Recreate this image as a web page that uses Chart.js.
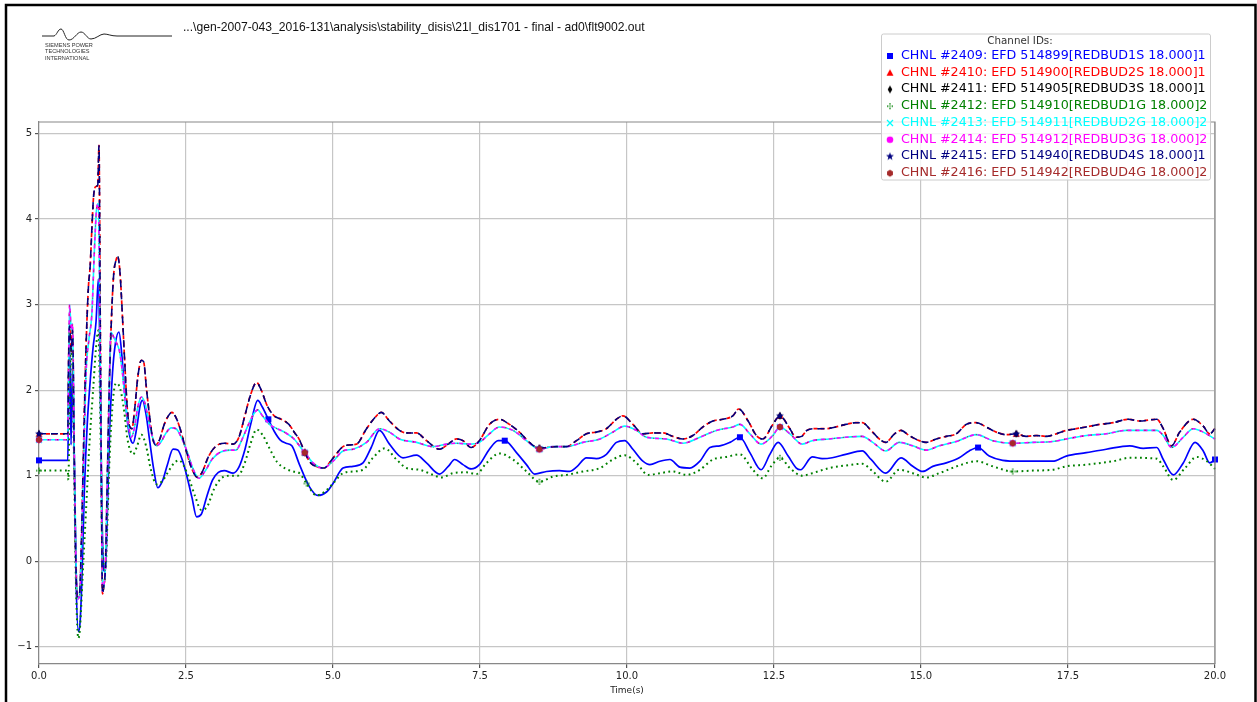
<!DOCTYPE html>
<html>
<head>
<meta charset="utf-8">
<script src="https://cdn.jsdelivr.net/npm/chart.js@4.4.0/dist/chart.umd.min.js"></script>
<style>
  html, body { margin: 0; padding: 0; background: #fff; }
  #wrap { position: relative; width: 1257px; height: 702px; }
</style>
</head>
<body>
<div id="wrap"><canvas id="efdChart" width="1257" height="702"></canvas></div>
<script>
// EFD traces: [time (s), value]
const timeTicks = [0, 2.5, 5, 7.5, 10, 12.5, 15, 17.5, 20];
const valueTicks = [-1, 0, 1, 2, 3, 4, 5];

const channelNames = [
  'CHNL #2409: EFD 514899[REDBUD1S 18.000]1',
  'CHNL #2410: EFD 514900[REDBUD2S 18.000]1',
  'CHNL #2411: EFD 514905[REDBUD3S 18.000]1',
  'CHNL #2412: EFD 514910[REDBUD1G 18.000]2',
  'CHNL #2413: EFD 514911[REDBUD2G 18.000]2',
  'CHNL #2414: EFD 514912[REDBUD3G 18.000]2',
  'CHNL #2415: EFD 514940[REDBUD4S 18.000]1',
  'CHNL #2416: EFD 514942[REDBUD4G 18.000]2'
];

// REDBUD1S
const efdBlue = [[0,1.18],[0.49,1.18],[0.5,1.7],[0.52,2.6],[0.545,1.36],[0.57,2.3],[0.6,1.2],[0.63,-0.2],[0.67,-0.82],[0.7,-0.7],[0.73,-0.2],[0.77,0.8],[0.82,1.6],[0.87,2.1],[0.92,2.5],[0.97,2.8],[1.01,3.3],[1.04,2.2],[1.07,0.6],[1.1,-0.1],[1.13,-0.12],[1.16,0.5],[1.2,1.5],[1.25,2.2],[1.3,2.55],[1.36,2.68],[1.41,2.4],[1.46,1.95],[1.51,1.6],[1.56,1.42],[1.6,1.38],[1.66,1.55],[1.72,1.82],[1.76,1.88],[1.82,1.72],[1.88,1.42],[1.95,1.08],[2.02,0.86],[2.1,0.94],[2.18,1.12],[2.28,1.31],[2.36,1.3],[2.44,1.18],[2.52,0.98],[2.6,0.75],[2.68,0.52],[2.76,0.55],[2.85,0.75],[2.95,0.95],[3.05,1.04],[3.15,1.06],[3.3,1.03],[3.4,1.1],[3.5,1.3],[3.6,1.6],[3.72,1.88],[3.8,1.8],[3.9,1.66],[4.0,1.52],[4.1,1.42],[4.2,1.38],[4.3,1.35],[4.43,1.13],[4.6,0.87],[4.74,0.77],[4.89,0.81],[5.0,0.91],[5.17,1.09],[5.34,1.11],[5.51,1.15],[5.65,1.33],[5.79,1.53],[5.96,1.37],[6.19,1.21],[6.42,1.24],[6.59,1.15],[6.81,1.02],[6.96,1.11],[7.07,1.19],[7.21,1.13],[7.35,1.08],[7.49,1.13],[7.66,1.31],[7.81,1.41],[7.92,1.41],[8.12,1.27],[8.29,1.13],[8.43,1.02],[8.63,1.05],[8.85,1.06],[9.02,1.05],[9.14,1.1],[9.31,1.21],[9.48,1.2],[9.65,1.25],[9.82,1.39],[9.96,1.41],[10.1,1.31],[10.27,1.17],[10.39,1.13],[10.56,1.17],[10.73,1.19],[10.9,1.1],[11.07,1.09],[11.24,1.17],[11.41,1.33],[11.58,1.35],[11.75,1.39],[11.92,1.45],[12.09,1.27],[12.28,1.07],[12.43,1.25],[12.57,1.39],[12.74,1.23],[12.88,1.09],[12.95,1.07],[13.15,1.22],[13.32,1.2],[13.49,1.21],[13.72,1.25],[14.0,1.29],[14.15,1.19],[14.4,1.03],[14.66,1.21],[14.86,1.11],[15.03,1.05],[15.2,1.11],[15.43,1.15],[15.65,1.21],[15.82,1.29],[15.97,1.33],[16.16,1.23],[16.39,1.18],[16.68,1.17],[17.02,1.17],[17.24,1.17],[17.47,1.23],[17.81,1.27],[18.15,1.31],[18.55,1.35],[18.78,1.32],[19.01,1.33],[19.12,1.19],[19.29,1.01],[19.46,1.15],[19.66,1.39],[19.8,1.29],[19.91,1.15],[20.0,1.19]];

// REDBUD2S / 3S / 4S (drawn on top of each other)
const efdUpper = [[0,1.49],[0.49,1.49],[0.5,2.2],[0.52,2.75],[0.55,2.45],[0.57,2.7],[0.6,1.2],[0.63,-0.1],[0.66,-0.42],[0.69,-0.38],[0.72,0.2],[0.76,1.4],[0.8,2.5],[0.84,3.2],[0.87,3.45],[0.9,3.9],[0.93,4.28],[0.97,4.38],[1.0,4.4],[1.02,4.86],[1.04,3.0],[1.06,1.0],[1.08,-0.38],[1.1,-0.3],[1.13,-0.05],[1.16,0.9],[1.19,1.9],[1.23,2.8],[1.27,3.35],[1.31,3.52],[1.34,3.56],[1.38,3.35],[1.42,2.85],[1.46,2.3],[1.5,1.8],[1.54,1.58],[1.58,1.55],[1.63,1.8],[1.68,2.15],[1.74,2.35],[1.78,2.33],[1.83,2.0],[1.88,1.7],[1.93,1.45],[1.98,1.36],[2.05,1.42],[2.12,1.58],[2.2,1.7],[2.26,1.74],[2.33,1.68],[2.4,1.55],[2.5,1.3],[2.6,1.08],[2.7,0.98],[2.78,1.05],[2.88,1.22],[3.0,1.34],[3.15,1.38],[3.3,1.37],[3.4,1.45],[3.5,1.7],[3.6,1.95],[3.7,2.09],[3.78,2.0],[3.88,1.82],[4.0,1.7],[4.12,1.66],[4.25,1.6],[4.35,1.5],[4.43,1.42],[4.52,1.27],[4.62,1.15],[4.75,1.1],[4.85,1.09],[4.95,1.16],[5.05,1.25],[5.17,1.34],[5.28,1.36],[5.4,1.37],[5.57,1.55],[5.74,1.7],[5.82,1.74],[5.96,1.64],[6.13,1.53],[6.25,1.5],[6.42,1.5],[6.59,1.41],[6.81,1.31],[6.96,1.37],[7.1,1.43],[7.21,1.41],[7.35,1.33],[7.49,1.41],[7.66,1.6],[7.83,1.66],[8.0,1.6],[8.17,1.51],[8.34,1.39],[8.51,1.32],[8.63,1.33],[8.8,1.34],[8.97,1.34],[9.14,1.41],[9.31,1.49],[9.48,1.51],[9.65,1.55],[9.82,1.66],[9.93,1.7],[10.1,1.6],[10.27,1.49],[10.44,1.5],[10.61,1.5],[10.78,1.46],[10.95,1.43],[11.12,1.47],[11.29,1.57],[11.46,1.64],[11.63,1.66],[11.8,1.7],[11.9,1.78],[12.06,1.64],[12.2,1.47],[12.31,1.43],[12.48,1.6],[12.6,1.7],[12.77,1.55],[12.87,1.45],[12.97,1.46],[13.06,1.53],[13.21,1.55],[13.38,1.55],[13.55,1.57],[13.72,1.6],[13.89,1.62],[14.0,1.62],[14.15,1.53],[14.29,1.43],[14.4,1.39],[14.55,1.49],[14.66,1.53],[14.8,1.47],[14.97,1.41],[15.09,1.39],[15.26,1.43],[15.43,1.46],[15.6,1.49],[15.77,1.6],[15.94,1.62],[16.11,1.57],[16.28,1.51],[16.45,1.48],[16.62,1.49],[16.79,1.46],[16.96,1.47],[17.13,1.46],[17.3,1.49],[17.47,1.53],[17.64,1.55],[17.81,1.57],[18.04,1.6],[18.27,1.62],[18.52,1.66],[18.72,1.64],[19.01,1.66],[19.12,1.55],[19.26,1.35],[19.4,1.51],[19.63,1.66],[19.8,1.58],[19.91,1.49],[20.0,1.55]];

// REDBUD1G
const efdGreen = [[0,1.06],[0.49,1.06],[0.5,0.95],[0.52,1.8],[0.54,2.5],[0.57,2.2],[0.6,1.0],[0.63,-0.3],[0.67,-0.9],[0.7,-0.75],[0.74,-0.2],[0.8,0.6],[0.86,1.4],[0.92,2.0],[0.97,2.5],[1.01,2.7],[1.04,1.8],[1.07,0.4],[1.1,-0.05],[1.13,-0.1],[1.16,0.4],[1.2,1.2],[1.26,1.9],[1.31,2.08],[1.38,2.02],[1.45,1.75],[1.5,1.45],[1.55,1.3],[1.6,1.25],[1.67,1.35],[1.74,1.48],[1.82,1.35],[1.9,1.08],[2.0,0.9],[2.1,0.94],[2.2,1.05],[2.3,1.15],[2.38,1.18],[2.46,1.12],[2.56,0.95],[2.66,0.75],[2.76,0.6],[2.86,0.64],[2.98,0.85],[3.1,0.97],[3.25,1.0],[3.38,1.0],[3.5,1.15],[3.6,1.38],[3.7,1.54],[3.8,1.48],[3.92,1.32],[4.05,1.16],[4.2,1.08],[4.32,1.05],[4.43,1.03],[4.55,0.91],[4.72,0.77],[4.89,0.83],[5.0,0.91],[5.17,1.03],[5.34,1.05],[5.51,1.07],[5.68,1.21],[5.88,1.32],[6.08,1.19],[6.25,1.09],[6.47,1.07],[6.7,1.01],[6.84,0.98],[7.04,1.03],[7.27,1.04],[7.44,1.02],[7.61,1.15],[7.83,1.26],[8.06,1.19],[8.29,1.05],[8.51,0.93],[8.74,0.99],[8.97,1.01],[9.25,1.05],[9.54,1.09],[9.76,1.19],[9.96,1.24],[10.16,1.15],[10.36,1.01],[10.56,1.03],[10.78,1.05],[11.01,1.01],[11.24,1.07],[11.46,1.19],[11.69,1.22],[11.92,1.25],[12.14,1.07],[12.31,0.97],[12.45,1.11],[12.6,1.21],[12.77,1.09],[12.98,1.0],[13.15,1.03],[13.44,1.09],[13.72,1.12],[14.0,1.14],[14.18,1.05],[14.4,0.93],[14.63,1.07],[14.86,1.03],[15.09,0.98],[15.31,1.03],[15.65,1.12],[15.94,1.17],[16.22,1.11],[16.56,1.05],[16.9,1.06],[17.24,1.07],[17.47,1.11],[17.81,1.13],[18.27,1.17],[18.55,1.21],[19.01,1.2],[19.12,1.11],[19.29,0.95],[19.49,1.09],[19.69,1.22],[19.86,1.17],[20.0,1.08]];

// REDBUD2G / 3G / 4G
const efdMid = [[0,1.42],[0.49,1.42],[0.5,2.0],[0.52,3.0],[0.55,2.7],[0.57,2.78],[0.6,1.3],[0.63,0.0],[0.66,-0.44],[0.69,-0.4],[0.72,0.1],[0.76,1.2],[0.8,2.2],[0.85,2.6],[0.9,2.9],[0.94,3.6],[0.98,4.12],[1.01,4.18],[1.03,3.2],[1.06,1.0],[1.08,-0.35],[1.1,-0.3],[1.13,-0.05],[1.16,0.9],[1.19,1.8],[1.22,2.68],[1.27,2.62],[1.32,2.55],[1.37,2.45],[1.42,2.2],[1.47,1.85],[1.52,1.6],[1.57,1.45],[1.62,1.55],[1.68,1.8],[1.74,1.92],[1.8,1.85],[1.86,1.66],[1.93,1.45],[2.0,1.35],[2.08,1.4],[2.16,1.5],[2.25,1.56],[2.33,1.55],[2.42,1.45],[2.52,1.28],[2.62,1.08],[2.72,0.97],[2.82,1.05],[2.95,1.2],[3.1,1.28],[3.25,1.3],[3.35,1.3],[3.45,1.42],[3.55,1.58],[3.65,1.72],[3.72,1.77],[3.8,1.7],[3.92,1.6],[4.05,1.55],[4.2,1.5],[4.35,1.42],[4.45,1.33],[4.52,1.27],[4.66,1.15],[4.83,1.09],[5.0,1.17],[5.17,1.29],[5.34,1.31],[5.57,1.39],[5.79,1.55],[5.96,1.51],[6.13,1.43],[6.42,1.39],[6.7,1.34],[6.93,1.37],[7.1,1.38],[7.32,1.37],[7.49,1.39],[7.66,1.49],[7.83,1.57],[8.06,1.53],[8.29,1.41],[8.51,1.31],[8.74,1.34],[8.97,1.34],[9.25,1.39],[9.54,1.43],[9.76,1.51],[9.96,1.58],[10.16,1.53],[10.33,1.45],[10.67,1.43],[10.95,1.38],[11.24,1.45],[11.52,1.53],[11.8,1.57],[11.92,1.6],[12.09,1.49],[12.28,1.37],[12.48,1.47],[12.6,1.57],[12.77,1.49],[12.98,1.37],[13.15,1.41],[13.44,1.43],[13.72,1.45],[14.0,1.46],[14.18,1.39],[14.4,1.29],[14.63,1.39],[14.86,1.35],[15.09,1.3],[15.31,1.35],[15.6,1.4],[15.94,1.48],[16.22,1.41],[16.56,1.38],[16.9,1.39],[17.24,1.4],[17.47,1.43],[17.81,1.47],[18.15,1.49],[18.49,1.53],[19.01,1.53],[19.12,1.47],[19.26,1.33],[19.46,1.45],[19.63,1.55],[19.8,1.51],[20.0,1.43]];

// times where each channel shows a marker
const markTimesS1 = [0, 3.9, 7.92, 11.92, 15.97, 20];
const markTimesOther = [0, 4.52, 8.51, 12.6, 16.62];

const headerPath = '...\\gen-2007-043_2016-131\\analysis\\stability_disis\\21l_dis1701 - final - ad0\\flt9002.out';

// small marker images, shared by plot and legend
function markerCanvas(kind, color) {
  const c = document.createElement('canvas');
  c.width = 10; c.height = 10;
  const g = c.getContext('2d');
  g.fillStyle = color; g.strokeStyle = color; g.lineWidth = 1.3;
  g.beginPath();
  if (kind === 'square') { g.rect(2, 2, 6, 6); g.fill(); }
  else if (kind === 'triangle') { g.moveTo(5, 1.5); g.lineTo(8.5, 8); g.lineTo(1.5, 8); g.closePath(); g.fill(); }
  else if (kind === 'diamond') { g.moveTo(5, 1); g.lineTo(7.3, 5); g.lineTo(5, 9); g.lineTo(2.7, 5); g.closePath(); g.fill(); }
  else if (kind === 'plus') { g.fillRect(4.3, 2, 1.4, 1.4); g.fillRect(4.3, 6.6, 1.4, 1.4); g.fillRect(2, 4.3, 1.4, 1.4); g.fillRect(6.6, 4.3, 1.4, 1.4); g.fillRect(4.4, 4.4, 1.2, 1.2); }
  else if (kind === 'x') { g.moveTo(2, 2); g.lineTo(8, 8); g.moveTo(8, 2); g.lineTo(2, 8); g.stroke(); }
  else if (kind === 'circle') { g.arc(5, 5, 3.3, 0, Math.PI * 2); g.fill(); }
  else if (kind === 'star') {
    for (let i = 0; i < 10; i++) {
      const r = i % 2 ? 1.7 : 4.2, a = -Math.PI / 2 + i * Math.PI / 5;
      g.lineTo(5 + r * Math.cos(a), 5 + r * Math.sin(a));
    }
    g.closePath(); g.fill();
  } else if (kind === 'hexagon') {
    for (let i = 0; i < 6; i++) {
      const a = -Math.PI / 2 + i * Math.PI / 3;
      g.lineTo(5 + 3.4 * Math.cos(a), 5 + 3.4 * Math.sin(a));
    }
    g.closePath(); g.fill();
  }
  return c;
}

function toXY(pairs) { return pairs.map(p => ({ x: p[0], y: p[1] })); }

function markIndices(pairs, times) {
  const s = new Set();
  times.forEach(t => {
    let best = 0;
    pairs.forEach((p, i) => { if (Math.abs(p[0] - t) < Math.abs(pairs[best][0] - t)) best = i; });
    s.add(best);
  });
  return s;
}

const traces = [
  { src: efdBlue,  color: '#0000ff', dash: [],           width: 1.7, mark: 'square',   times: markTimesS1 },
  { src: efdUpper, color: '#ff0000', dash: [4, 3],       width: 1.7, mark: 'triangle', times: markTimesOther },
  { src: efdUpper, color: '#000000', dash: [2, 10],      width: 1.2, mark: 'diamond',  times: markTimesOther },
  { src: efdGreen, color: '#008000', dash: [1.8, 3.4],   width: 2,   mark: 'plus',     times: markTimesOther },
  { src: efdMid,   color: '#00ffff', dash: [],           width: 1.6, mark: 'x',        times: markTimesOther },
  { src: efdMid,   color: '#ff00ff', dash: [4, 4],       width: 1.6, mark: 'circle',   times: markTimesOther },
  { src: efdUpper, color: '#000080', dash: [7, 5],       width: 1.6, mark: 'star',     times: markTimesOther },
  { src: efdMid,   color: '#a52a2a', dash: [1, 8],       width: 1.1, mark: 'hexagon',  times: markTimesOther }
];

const markSets = traces.map(t => markIndices(t.src, t.times));
const markImgs = traces.map(t => markerCanvas(t.mark, t.color));

const datasets = traces.map((t, i) => ({
  label: channelNames[i],
  data: toXY(t.src),
  borderColor: t.color,
  backgroundColor: t.color,
  borderWidth: t.width,
  borderDash: t.dash,
  cubicInterpolationMode: 'monotone',
  pointStyle: markImgs[i],
  pointRadius: c => markSets[i].has(c.dataIndex) ? 4 : 0,
  pointHoverRadius: 0,
  clip: 6,
  order: 10 - i
}));

function fitText(ctx, text, family, width, weight) {
  ctx.font = (weight || '') + ' 20px ' + family;
  return 20 * width / ctx.measureText(text).width;
}

const sheetPlugin = {
  id: 'sheet',
  afterDatasetsDraw(chart) {
    const { ctx, chartArea: a } = chart;
    ctx.save();
    ctx.strokeStyle = '#888';
    ctx.lineWidth = 1.2;
    ctx.beginPath();
    ctx.moveTo(a.left, a.top); ctx.lineTo(a.right, a.top); ctx.lineTo(a.right, a.bottom);
    ctx.stroke();
    ctx.restore();
  },
  afterDraw(chart) {
    const ctx = chart.ctx;
    ctx.save();

    // page frame
    ctx.strokeStyle = '#000';
    ctx.lineWidth = 2.5;
    ctx.beginPath();
    ctx.moveTo(6, 702); ctx.lineTo(6, 5); ctx.lineTo(1255.5, 5); ctx.lineTo(1255.5, 702);
    ctx.stroke();

    // logo
    ctx.strokeStyle = '#222';
    ctx.lineWidth = 1;
    ctx.beginPath();
    ctx.moveTo(42, 36); ctx.lineTo(54, 36);
    ctx.bezierCurveTo(57, 35, 58, 29, 61, 29);
    ctx.bezierCurveTo(64, 29, 65, 40, 69, 40);
    ctx.bezierCurveTo(74, 40, 77, 32, 81, 32);
    ctx.bezierCurveTo(85, 32, 87, 39, 91, 39);
    ctx.bezierCurveTo(96, 39, 100, 34, 104, 34);
    ctx.bezierCurveTo(108, 34, 111, 36, 117, 36);
    ctx.lineTo(172, 36);
    ctx.stroke();
    ctx.fillStyle = '#333';
    ctx.textBaseline = 'middle';
    ctx.textAlign = 'left';
    ['SIEMENS POWER', 'TECHNOLOGIES', 'INTERNATIONAL'].forEach((s, i) => {
      ctx.font = '5.6px "Liberation Sans"';
      ctx.fillText(s, 45, 45 + i * 6.5);
    });

    // run path
    ctx.fillStyle = '#111';
    const hs = fitText(ctx, headerPath, '"Liberation Sans"', 462);
    ctx.font = hs.toFixed(2) + 'px "Liberation Sans"';
    ctx.fillText(headerPath, 183, 28);

    // axis title
    ctx.fillStyle = '#222';
    ctx.textAlign = 'center';
    ctx.font = '9px "DejaVu Sans"';
    ctx.fillText('Time(s)', 627, 690.5);

    // legend
    const lx = 881.5, ly = 34, lw = 329, lh = 146;
    ctx.fillStyle = 'rgba(255,255,255,0.8)';
    ctx.strokeStyle = '#cccccc';
    ctx.lineWidth = 1;
    ctx.beginPath();
    ctx.roundRect(lx, ly, lw, lh, 2);
    ctx.fill(); ctx.stroke();
    ctx.fillStyle = '#333';
    ctx.font = '10.3px "DejaVu Sans"';
    ctx.fillText('Channel IDs:', 1020, 41);
    ctx.textAlign = 'left';
    ctx.font = '12.7px "DejaVu Sans"';
    channelNames.forEach((name, i) => {
      const y = 55 + i * 16.75;
      ctx.drawImage(markImgs[i], 885, y - 5 + 1);
      ctx.fillStyle = traces[i].color;
      ctx.fillText(name, 901, y + 0.5);
    });
    ctx.restore();
  }
};

new Chart(document.getElementById('efdChart').getContext('2d'), {
  type: 'line',
  data: { datasets },
  options: {
    responsive: false,
    animation: false,
    devicePixelRatio: 1,
    layout: { padding: { left: 0, right: 42, top: 122, bottom: 0 } },
    plugins: { legend: { display: false }, tooltip: { enabled: false } },
    scales: {
      x: {
        type: 'linear', min: 0, max: 20,
        afterBuildTicks: s => { s.ticks = timeTicks.map(v => ({ value: v })); },
        afterFit: s => { s.height = 38; },
        ticks: {
          callback: v => v.toFixed(1),
          font: { family: 'DejaVu Sans', size: 10 }, color: '#222',
          padding: 2, maxRotation: 0, autoSkip: false
        },
        grid: { color: '#c6c6c6', lineWidth: 1.2, tickColor: '#555', tickLength: 4 },
        border: { color: '#888', width: 1.2 }
      },
      y: {
        type: 'linear', min: -1.2, max: 5.134,
        afterBuildTicks: s => { s.ticks = valueTicks.map(v => ({ value: v })); },
        afterFit: s => { s.width = 39; },
        ticks: {
          callback: v => (v < 0 ? '\u2212' + Math.abs(v) : String(v)),
          font: { family: 'DejaVu Sans', size: 10 }, color: '#222', padding: 3
        },
        grid: { color: '#c6c6c6', lineWidth: 1.2, tickColor: '#555', tickLength: 4 },
        border: { color: '#888', width: 1.2 }
      }
    }
  },
  plugins: [sheetPlugin]
});
</script>
</body>
</html>
